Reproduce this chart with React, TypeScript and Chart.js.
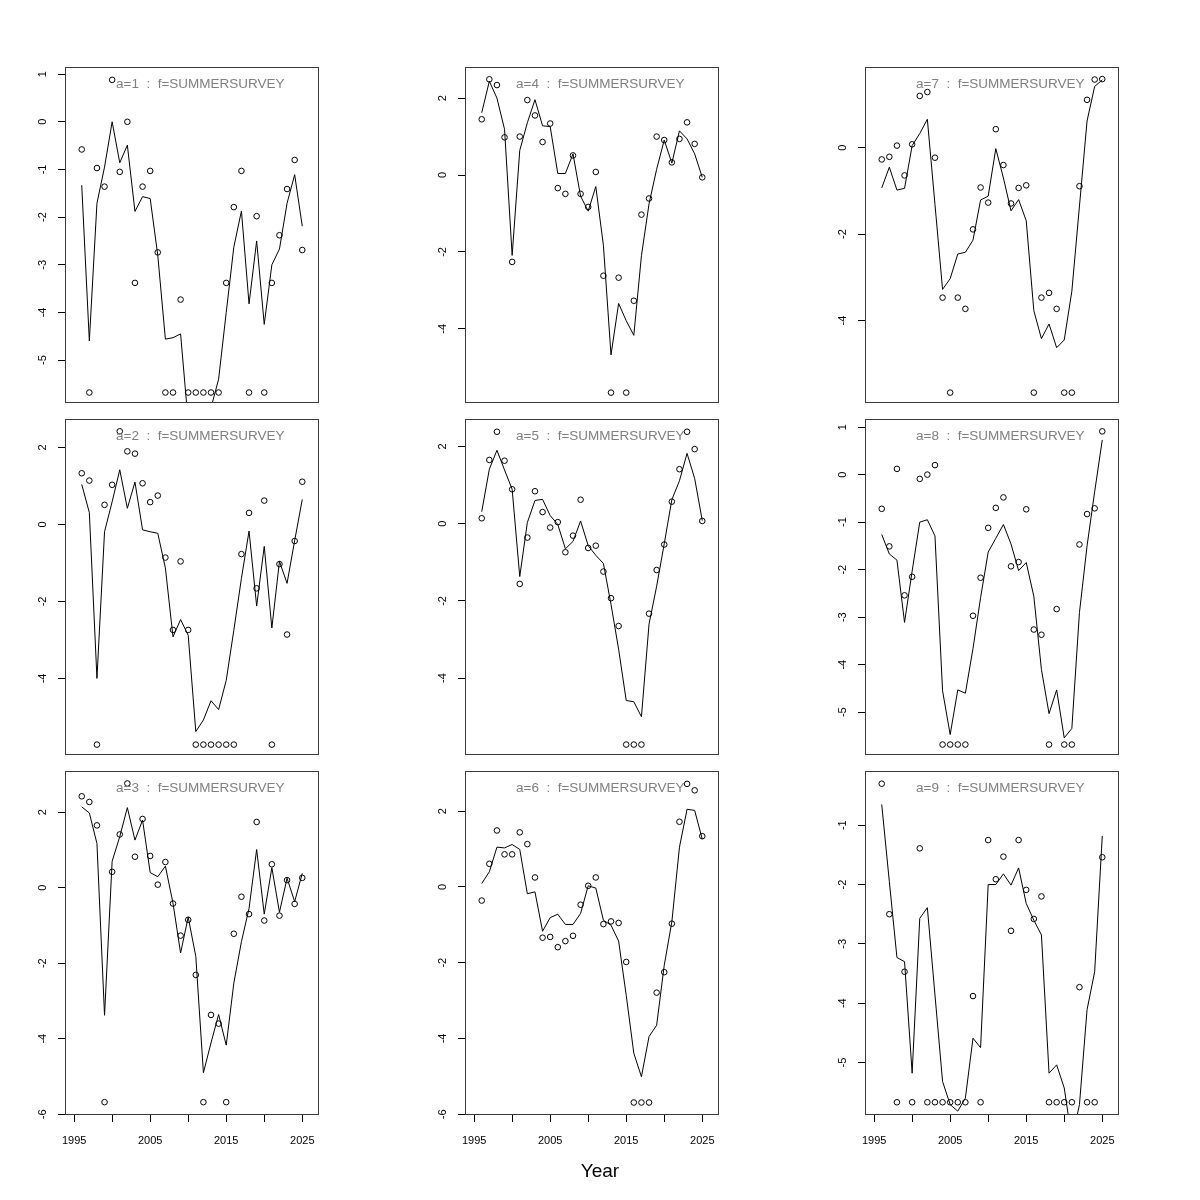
import React, { useEffect, useRef } from 'react';
import { Chart, registerables } from 'chart.js';

Chart.register(...registerables);

const years = [1996, 1997, 1998, 1999, 2000, 2001, 2002, 2003, 2004, 2005, 2006, 2007, 2008, 2009, 2010, 2011, 2012, 2013, 2014, 2015, 2016, 2017, 2018, 2019, 2020, 2021, 2022, 2023, 2024, 2025];
const xTickValues = [1995, 2000, 2005, 2010, 2015, 2020, 2025];
const xTickLabels = [1995, 2005, 2015, 2025];
const xLimits = [1993.8, 2027.2];

const panelLabels = [
  'a=1  :  f=SUMMERSURVEY', 'a=2  :  f=SUMMERSURVEY', 'a=3  :  f=SUMMERSURVEY',
  'a=4  :  f=SUMMERSURVEY', 'a=5  :  f=SUMMERSURVEY', 'a=6  :  f=SUMMERSURVEY',
  'a=7  :  f=SUMMERSURVEY', 'a=8  :  f=SUMMERSURVEY', 'a=9  :  f=SUMMERSURVEY',
];

// observed (circles)
const obs1 = [-0.58, -5.68, -0.97, -1.36, 0.88, -1.05, 0.0, -3.38, -1.36, -1.03, -2.74, -5.68, -5.68, -3.73, -5.68, -5.68, -5.68, -5.68, -5.68, -3.38, -1.79, -1.03, -5.68, -1.98, -5.68, -3.38, -2.38, -1.41, -0.80, -2.69];
const obs2 = [1.33, 1.14, -5.72, 0.51, 1.03, 2.42, 1.90, 1.84, 1.07, 0.58, 0.75, -0.86, -2.74, -0.96, -2.74, -5.72, -5.72, -5.72, -5.72, -5.72, -5.72, -0.77, 0.30, -1.66, 0.62, -5.72, -1.03, -2.86, -0.43, 1.11];
const obs3 = [2.42, 2.27, 1.65, -5.68, 0.42, 1.41, 2.76, 0.82, 1.82, 0.84, 0.08, 0.68, -0.42, -1.27, -0.85, -2.31, -5.68, -3.37, -3.60, -5.68, -1.22, -0.24, -0.70, 1.74, -0.87, 0.62, -0.74, 0.20, -0.43, 0.26];
const obs4 = [1.45, 2.49, 2.34, 0.98, -2.26, 1.0, 1.95, 1.55, 0.86, 1.34, -0.34, -0.49, 0.51, -0.49, -0.83, 0.08, -2.62, -5.66, -2.67, -5.66, -3.27, -1.03, -0.61, 1.0, 0.91, 0.33, 0.94, 1.37, 0.81, -0.06];
const obs5 = [0.14, 1.65, 2.38, 1.63, 0.89, -1.56, -0.36, 0.84, 0.30, -0.10, 0.04, -0.74, -0.31, 0.62, -0.63, -0.57, -1.24, -1.93, -2.65, -5.72, -5.72, -5.72, -2.33, -1.20, -0.54, 0.57, 1.41, 2.38, 1.93, 0.07];
const obs6 = [-0.36, 0.61, 1.49, 0.86, 0.86, 1.44, 1.13, 0.25, -1.34, -1.32, -1.59, -1.43, -1.29, -0.47, 0.03, 0.25, -0.98, -0.91, -0.95, -1.98, -5.69, -5.69, -5.69, -2.79, -2.25, -0.97, 1.72, 2.72, 2.55, 1.34];
const obs7 = [-0.27, -0.21, 0.05, -0.64, 0.08, 1.20, 1.29, -0.23, -3.47, -5.67, -3.47, -3.73, -1.89, -0.92, -1.27, 0.43, -0.40, -1.29, -0.93, -0.87, -5.67, -3.47, -3.36, -3.73, -5.67, -5.67, -0.89, 1.11, 1.58, 1.59];
const obs8 = [-0.72, -1.51, 0.12, -2.54, -2.15, -0.09, 0.0, 0.20, -5.68, -5.68, -5.68, -5.68, -2.97, -2.17, -1.12, -0.70, -0.48, -1.93, -1.84, -0.73, -3.26, -3.37, -5.68, -2.83, -5.68, -5.68, -1.47, -0.83, -0.71, 0.91];
const obs9 = [-0.30, -2.50, -5.67, -3.47, -5.67, -1.39, -5.67, -5.67, -5.67, -5.67, -5.67, -5.67, -3.88, -5.67, -1.25, -1.91, -1.53, -2.78, -1.25, -2.09, -2.58, -2.20, -5.67, -5.67, -5.67, -5.67, -3.73, -5.67, -5.67, -1.54];

// fitted (lines)
const fit1 = [-1.33, -4.60, -1.71, -0.95, 0.0, -0.86, -0.49, -1.88, -1.57, -1.61, -2.80, -4.56, -4.53, -4.45, -6.3, -6.8, -6.6, -6.0, -5.40, -4.0, -2.63, -1.87, -3.82, -2.50, -4.25, -3.0, -2.67, -1.71, -1.11, -2.19];
const fit2 = [1.04, 0.31, -4.0, -0.19, 0.59, 1.42, 0.42, 1.10, -0.14, -0.19, -0.23, -1.13, -2.92, -2.47, -2.88, -5.38, -5.08, -4.58, -4.81, -4.05, -2.75, -1.4, -0.17, -2.12, -0.57, -2.69, -0.96, -1.53, -0.42, 0.65];
const fit3 = [2.14, 1.98, 1.17, -3.38, 0.70, 1.35, 2.12, 1.26, 1.79, 0.40, 0.29, 0.57, -0.41, -1.73, -0.78, -1.82, -4.90, -4.11, -3.36, -4.17, -2.53, -1.43, -0.55, 1.01, -0.70, 0.53, -0.65, 0.25, -0.37, 0.38];
const fit4 = [1.62, 2.44, 2.0, 1.19, -2.09, 0.64, 1.36, 1.96, 1.28, 1.26, 0.04, 0.04, 0.55, -0.55, -0.94, -0.30, -1.83, -4.68, -3.34, -3.79, -4.17, -2.1, -0.75, 0.15, 0.91, 0.31, 1.15, 0.94, 0.55, -0.06];
const fit5 = [0.31, 1.41, 1.90, 1.39, 0.89, -1.37, 0.03, 0.60, 0.63, 0.21, -0.02, -0.65, -0.46, 0.07, -0.57, -0.82, -1.03, -2.09, -3.25, -4.58, -4.61, -5.0, -2.6, -1.62, -0.52, 0.62, 1.11, 1.82, 1.17, 0.08];
const fit6 = [0.09, 0.40, 1.05, 1.03, 1.12, 0.99, -0.18, -0.13, -1.17, -0.81, -0.72, -0.99, -0.99, -0.70, 0.03, -0.03, -0.88, -1.01, -1.43, -2.86, -4.39, -5.01, -3.95, -3.65, -2.07, -0.92, 1.05, 2.05, 2.02, 1.26];
const fit7 = [-0.93, -0.45, -0.98, -0.94, 0.05, 0.33, 0.66, -1.31, -3.28, -3.03, -2.46, -2.42, -2.14, -1.21, -1.12, -0.02, -0.70, -1.46, -1.20, -1.69, -3.77, -4.42, -4.08, -4.63, -4.45, -3.32, -1.35, 0.62, 1.42, 1.57];
const fit8 = [-1.26, -1.67, -1.80, -3.11, -2.03, -1.0, -0.95, -1.29, -4.55, -5.47, -4.53, -4.60, -3.66, -2.59, -1.63, -1.34, -1.05, -1.46, -2.02, -1.85, -2.56, -4.10, -5.03, -4.53, -5.54, -5.34, -2.90, -1.50, -0.36, 0.73];
const fit9 = [-0.65, -1.95, -3.23, -3.30, -5.18, -2.57, -2.39, -3.86, -5.32, -5.71, -5.82, -5.6, -4.59, -4.75, -2.0, -2.0, -1.82, -2.01, -1.72, -2.32, -2.6, -2.85, -5.18, -5.04, -5.43, -6.3, -5.71, -4.11, -3.47, -1.18];

// y tick values per panel
const yTicks1 = [-5, -4, -3, -2, -1, 0, 1];
const yTicks2 = [-4, -2, 0, 2];
const yTicks3 = [-6, -4, -2, 0, 2];
const yTicks4 = [-4, -2, 0, 2];
const yTicks5 = [-4, -2, 0, 2];
const yTicks6 = [-6, -4, -2, 0, 2];
const yTicks7 = [-4, -2, 0];
const yTicks8 = [-5, -4, -3, -2, -1, 0, 1];
const yTicks9 = [-5, -4, -3, -2, -1];

// y axis limits per panel
const yLimits = [
  [-5.90, 1.15], [-5.99, 2.74], [-6.02, 3.09],
  [-5.93, 2.81], [-5.99, 2.71], [-6.02, 3.06],
  [-5.91, 1.87], [-5.90, 1.17], [-5.885, -0.086],
];

const observed = [obs1, obs2, obs3, obs4, obs5, obs6, obs7, obs8, obs9];
const fitted = [fit1, fit2, fit3, fit4, fit5, fit6, fit7, fit8, fit9];
const yTicksAll = [yTicks1, yTicks2, yTicks3, yTicks4, yTicks5, yTicks6, yTicks7, yTicks8, yTicks9];

const FONT = '"Liberation Sans", Arial, Helvetica, sans-serif';
const COL_LEFT = [65, 465, 865];
const ROW_TOP = [67, 419, 771];
const BOX_W = 254;
const BOX_H = 344;
const PAD_L = 65;
const PAD_R = 10;
const PAD_T = 8;

function Panel({ idx }: { idx: number }) {
  const ref = useRef<HTMLCanvasElement | null>(null);
  const col = Math.floor(idx / 3);
  const row = idx % 3;
  const bottomRow = row === 2;
  const padB = bottomRow ? 85 : 8;
  const cw = PAD_L + BOX_W + PAD_R;
  const ch = PAD_T + BOX_H + padB;

  useEffect(() => {
    const label = panelLabels[idx];
    const boxPlugin = {
      id: 'boxAndLabel',
      afterDraw(chart: any) {
        const { ctx, chartArea: a } = chart;
        ctx.save();
        ctx.strokeStyle = '#3a3a3a';
        ctx.lineWidth = 1;
        ctx.strokeRect(Math.round(a.left) + 0.5, Math.round(a.top) + 0.5, Math.round(a.right - a.left) - 1, Math.round(a.bottom - a.top) - 1);
        ctx.font = `13.5px ${FONT}`;
        ctx.fillStyle = '#808080';
        ctx.textAlign = 'left';
        ctx.textBaseline = 'alphabetic';
        ctx.fillText(label, a.left + 51, a.top + 21);
        ctx.restore();
      },
    };
    const chart = new Chart(ref.current as HTMLCanvasElement, {
      type: 'scatter',
      data: {
        datasets: [
          {
            data: years.map((y, i) => ({ x: y, y: fitted[idx][i] })),
            showLine: true,
            borderColor: '#000',
            backgroundColor: '#000',
            borderWidth: 1,
            pointRadius: 0,
            tension: 0,
          },
          {
            data: years.map((y, i) => ({ x: y, y: observed[idx][i] })),
            showLine: false,
            pointRadius: 2.8,
            pointStyle: 'circle',
            borderColor: '#000',
            backgroundColor: 'rgba(0,0,0,0)',
            borderWidth: 1,
          },
        ],
      },
      options: {
        responsive: false,
        animation: false,
        devicePixelRatio: 1,
        layout: { padding: { left: 0, top: PAD_T, right: PAD_R, bottom: bottomRow ? 0 : padB } },
        plugins: { legend: { display: false }, tooltip: { enabled: false } },
        scales: {
          x: {
            type: 'linear',
            min: xLimits[0],
            max: xLimits[1],
            display: bottomRow,
            afterBuildTicks: (s: any) => { s.ticks = xTickValues.map((v) => ({ value: v })); },
            afterFit: (s: any) => { s.height = padB; s.paddingLeft = 0; s.paddingRight = 0; },
            grid: { drawOnChartArea: false, drawTicks: true, tickLength: 7, color: '#000', lineWidth: 1 },
            border: { display: false },
            ticks: {
              padding: 12,
              minRotation: 0,
              maxRotation: 0,
              autoSkip: false,
              color: '#000',
              font: { family: FONT, size: 11 },
              callback: (v: any) => (xTickLabels.includes(Number(v)) ? String(v) : ''),
            },
          },
          y: {
            type: 'linear',
            min: yLimits[idx][0],
            max: yLimits[idx][1],
            afterBuildTicks: (s: any) => { s.ticks = yTicksAll[idx].map((v) => ({ value: v })); },
            afterFit: (s: any) => { s.width = PAD_L; s.paddingTop = 0; s.paddingBottom = 0; },
            grid: { drawOnChartArea: false, drawTicks: true, tickLength: 7, color: '#000', lineWidth: 1 },
            border: { display: false },
            ticks: {
              minRotation: 90,
              maxRotation: 90,
              crossAlign: 'center',
              padding: 10,
              autoSkip: false,
              color: '#000',
              font: { family: FONT, size: 11 },
              callback: (v: any) => String(v),
            },
          },
        },
      } as any,
      plugins: [boxPlugin],
    });
    return () => chart.destroy();
  }, [idx]);

  return (
    <canvas
      ref={ref}
      width={cw}
      height={ch}
      style={{ position: 'absolute', left: COL_LEFT[col] - PAD_L, top: ROW_TOP[row] - PAD_T, width: cw, height: ch }}
    />
  );
}

export default function App() {
  const panels = [0, 1, 2, 3, 4, 5, 6, 7, 8];
  return (
    <div style={{ position: 'absolute', left: 0, top: 0, width: 1200, height: 1200, background: '#fff', overflow: 'hidden' }}>
      {panels.map((i) => (
        <Panel key={i} idx={i} />
      ))}
      <div
        style={{
          position: 'absolute',
          left: 0,
          width: 1200,
          top: 1158,
          textAlign: 'center',
          fontFamily: FONT,
          fontSize: 19,
          lineHeight: '26px',
          color: '#000',
        }}
      >
        Year
      </div>
    </div>
  );
}
